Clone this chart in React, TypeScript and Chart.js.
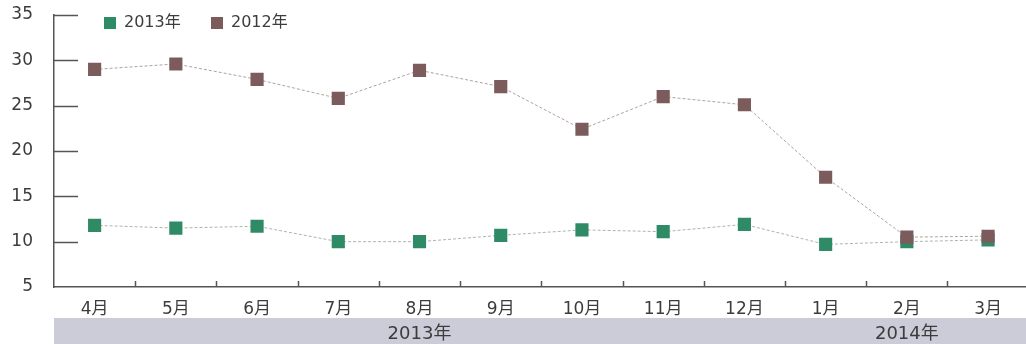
import React, { useEffect, useRef } from "react";
import { Chart, registerables } from "chart.js";

Chart.register(...registerables);

const months = ["4月", "5月", "6月", "7月", "8月", "9月", "10月", "11月", "12月", "1月", "2月", "3月"];
const series2013 = [11.8, 11.5, 11.7, 10.0, 10.0, 10.7, 11.3, 11.1, 11.9, 9.7, 10.0, 10.2];
const series2012 = [29.0, 29.6, 27.9, 25.8, 28.9, 27.1, 22.4, 26.0, 25.1, 17.1, 10.5, 10.6];
const yearGroups = [
  { label: "2013年", from: 0, to: 8 },
  { label: "2014年", from: 9, to: 11 },
];
const yTicks = [5, 10, 15, 20, 25, 30, 35];

const GREEN = "#2f8a66";
const BROWN = "#7b5b5c";
const AXIS = "#555555";
const TEXT = "#3c3c3c";
const FONT = '"DejaVu Sans", "Noto Sans CJK JP", sans-serif';

const decorPlugin = {
  id: "decor",
  afterDraw(chart: any) {
    const ctx = chart.ctx;
    const xs = chart.scales.x;
    const ys = chart.scales.y;
    const area = chart.chartArea;
    ctx.save();
    ctx.strokeStyle = AXIS;
    ctx.lineWidth = 1.5;
    yTicks.forEach((v) => {
      if (v === 5) return;
      const y = Math.round(ys.getPixelForValue(v)) + 0.5;
      ctx.beginPath();
      ctx.moveTo(area.left, y);
      ctx.lineTo(area.left + 24, y);
      ctx.stroke();
    });
    for (let i = 1; i < months.length; i++) {
      const x = Math.round((xs.getPixelForTick(i - 1) + xs.getPixelForTick(i)) / 2) + 0.5;
      ctx.beginPath();
      ctx.moveTo(x, area.bottom);
      ctx.lineTo(x, area.bottom - 6);
      ctx.stroke();
    }
    const bandTop = 318;
    ctx.fillStyle = "#cbccd8";
    ctx.fillRect(area.left, bandTop, chart.width - area.left, chart.height - bandTop);
    ctx.fillStyle = TEXT;
    ctx.font = "18px " + FONT;
    ctx.textAlign = "center";
    ctx.textBaseline = "middle";
    const half = (xs.getPixelForTick(1) - xs.getPixelForTick(0)) / 2;
    yearGroups.forEach((g) => {
      const x0 = xs.getPixelForTick(g.from) - half;
      const x1 = xs.getPixelForTick(g.to) + half;
      ctx.fillText(g.label, (x0 + x1) / 2, 334);
    });
    const legend = [
      { label: "2013年", color: GREEN, x: 104 },
      { label: "2012年", color: BROWN, x: 211 },
    ];
    ctx.textAlign = "left";
    ctx.font = "16px " + FONT;
    legend.forEach((l) => {
      ctx.fillStyle = l.color;
      ctx.fillRect(l.x, 17, 12, 12);
      ctx.fillStyle = TEXT;
      ctx.fillText(l.label, l.x + 20, 23);
    });
    ctx.restore();
  },
};

export default function App() {
  const ref = useRef<HTMLCanvasElement | null>(null);
  useEffect(() => {
    document.body.style.margin = "0";
    document.body.style.overflow = "hidden";
    const canvas = ref.current!;
    const chart = new Chart(canvas, {
      type: "line",
      data: {
        labels: months,
        datasets: [
          {
            label: "2013年",
            data: series2013,
            borderColor: "#aab5ae",
            borderWidth: 1,
            borderDash: [3, 2],
            pointStyle: "rect",
            pointRadius: 9.3,
            pointBackgroundColor: GREEN,
            pointBorderColor: GREEN,
            pointBorderWidth: 0,
            order: 2,
          },
          {
            label: "2012年",
            data: series2012,
            borderColor: "#b0a29c",
            borderWidth: 1,
            borderDash: [3, 2],
            pointStyle: "rect",
            pointRadius: 9.3,
            pointBackgroundColor: BROWN,
            pointBorderColor: BROWN,
            pointBorderWidth: 0,
            order: 1,
          },
        ],
      },
      options: {
        responsive: false,
        animation: false,
        layout: { padding: { top: 15, left: 0, right: 0, bottom: 0 } },
        plugins: { legend: { display: false }, tooltip: { enabled: false } },
        scales: {
          x: {
            offset: true,
            grid: { display: false },
            border: { display: true, color: AXIS, width: 1.5 },
            ticks: { color: TEXT, font: { family: FONT, size: 17 }, padding: 4, maxRotation: 0 },
            afterFit: (s: any) => {
              s.height = 57;
              s.paddingLeft = 0;
              s.paddingRight = 0;
            },
          },
          y: {
            min: 5,
            max: 35,
            afterBuildTicks: (s: any) => {
              s.ticks = yTicks.map((v) => ({ value: v }));
            },
            grid: { display: false },
            border: { display: true, color: AXIS, width: 1.5 },
            ticks: { color: TEXT, font: { family: FONT, size: 17 }, padding: 13 },
            afterFit: (s: any) => {
              s.width = 54;
              s.paddingTop = 0;
              s.paddingBottom = 0;
            },
          },
        },
      },
      plugins: [decorPlugin],
    });
    return () => chart.destroy();
  }, []);
  return (
    <div style={{ width: 1026, height: 344, overflow: "hidden", position: "relative" }}>
      <canvas ref={ref} width={1038} height={344} style={{ display: "block" }} />
    </div>
  );
}
